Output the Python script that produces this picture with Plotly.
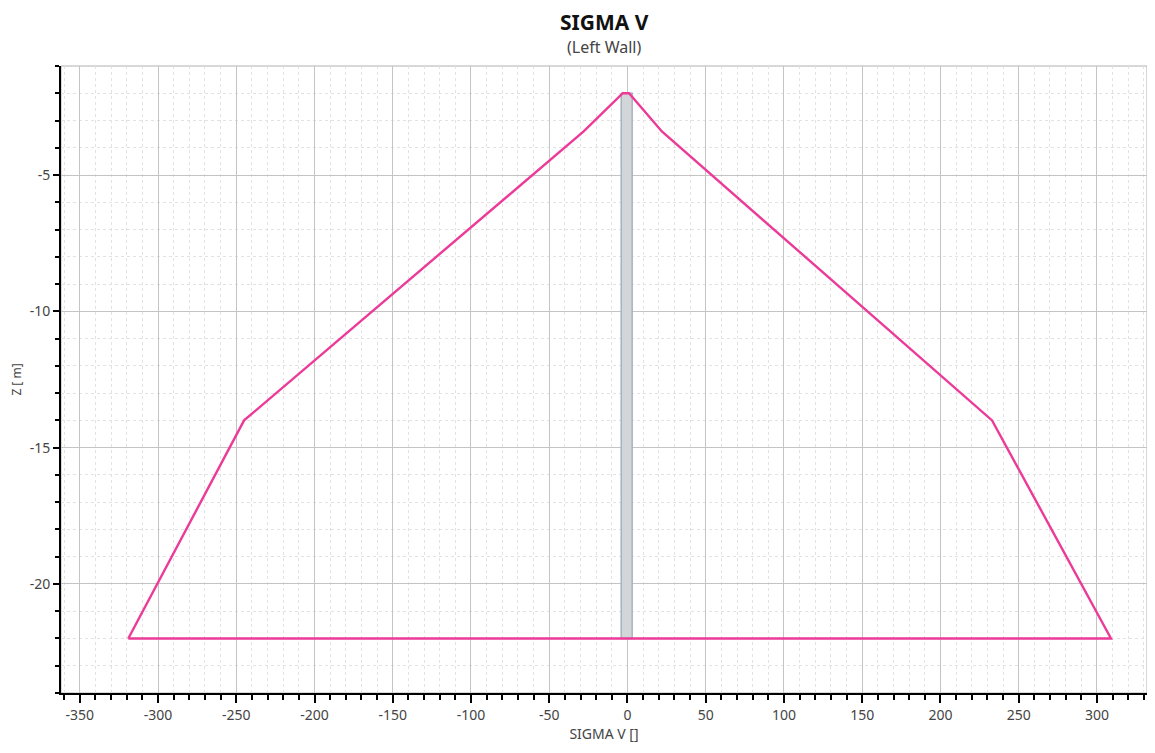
import plotly.graph_objects as go

# Data
sigma_v = [-319, -245, -28, -3, 1, 22, 233, 309, -319]
z = [-22, -14, -3.4, -2, -2, -3.4, -14, -22, -22]
wall_x = [-4, 3, 3, -4, -4]
wall_z = [-2, -2, -22, -22, -2]
x_ticks = [-350, -300, -250, -200, -150, -100, -50, 0, 50, 100, 150, 200, 250, 300]
x_labels = ["-350", "-300", "-250", "-200", "-150", "-100", "-50", "0", "50", "100", "150", "200", "250", "300"]
y_ticks = [-5, -10, -15, -20]
y_labels = ["-5", "-10", "-15", "-20"]

FONT = "Noto Sans"

fig = go.Figure()
fig.add_trace(go.Scatter(x=wall_x, y=wall_z, mode="lines", fill="toself",
                         fillcolor="#d3d6d9", line=dict(color="#a6b2bf", width=1.5),
                         hoverinfo="skip", showlegend=False))
fig.add_trace(go.Scatter(x=sigma_v, y=z, mode="lines",
                         line=dict(color="#ec3a98", width=2.4),
                         showlegend=False))

fig.update_layout(
    width=1147, height=745,
    margin=dict(l=53, r=8, t=58, b=60),
    paper_bgcolor="white", plot_bgcolor="white",
    font=dict(family=FONT, color="#444", size=13),
    annotations=[
        dict(text="<b>SIGMA V</b>", x=0.5, y=1, xref="paper", yref="paper",
             yshift=59, showarrow=False, borderpad=0,
             font=dict(size=21, color="#111", family=FONT)),
        dict(text="(Left Wall)", x=0.5, y=1, xref="paper", yref="paper",
             yshift=32, showarrow=False, font=dict(size=16, color="#444", family=FONT)),
    ],
)

fig.update_xaxes(
    range=[-362, 332], tickvals=x_ticks, ticktext=x_labels, automargin=False,
    showline=True, linecolor="black", linewidth=2, mirror=False,
    ticks="outside", ticklen=8, tickwidth=2, tickcolor="black",
    showgrid=True, gridcolor="#c4c4c4", gridwidth=1, zeroline=False,
    minor=dict(dtick=10, tick0=0, ticks="outside", ticklen=5, tickwidth=2,
               tickcolor="black", showgrid=True, gridcolor="#e2e2e2", griddash="dot"),
    title=dict(text="SIGMA V []", font=dict(size=14, color="#444"), standoff=6),
    tickfont=dict(size=14, color="#444"),
)
fig.update_yaxes(
    range=[-24, -1], tickvals=y_ticks, ticktext=y_labels, automargin=False,
    showline=True, linecolor="black", linewidth=2, mirror=False,
    ticks="outside", ticklen=6, tickwidth=2, tickcolor="black",
    showgrid=True, gridcolor="#c4c4c4", gridwidth=1, zeroline=False,
    minor=dict(dtick=1, tick0=0, ticks="outside", ticklen=4, tickwidth=1.5,
               tickcolor="black", showgrid=True, gridcolor="#e2e2e2", griddash="dot"),
    title=dict(text="Z [ m]", font=dict(size=12, color="#444"), standoff=14),
    tickfont=dict(size=14, color="#444"),
)

# thin border on top/right
fig.add_shape(type="rect", xref="paper", yref="paper", x0=0, y0=0, x1=1, y1=1,
              line=dict(color="#b0b0b0", width=1), layer="below")

fig.write_html("out.html")
